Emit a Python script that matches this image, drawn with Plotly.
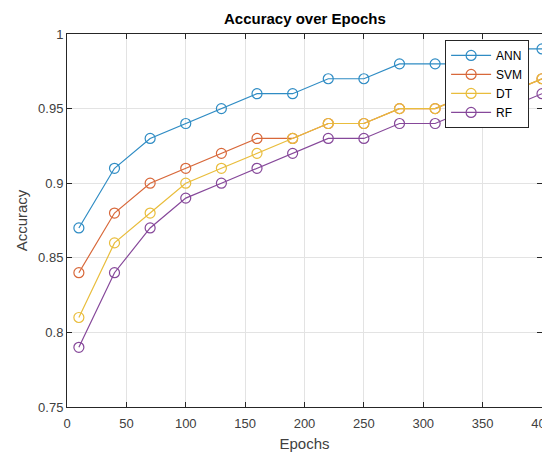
import plotly.graph_objects as go

epochs = [10, 40, 70, 100, 130, 160, 190, 220, 250, 280, 310, 340, 370, 400]
ann = [0.87, 0.91, 0.93, 0.94, 0.95, 0.96, 0.96, 0.97, 0.97, 0.98, 0.98, 0.98, 0.99, 0.99]
svm = [0.84, 0.88, 0.90, 0.91, 0.92, 0.93, 0.93, 0.94, 0.94, 0.95, 0.95, 0.96, 0.96, 0.97]
dt = [0.81, 0.86, 0.88, 0.90, 0.91, 0.92, 0.93, 0.94, 0.94, 0.95, 0.95, 0.96, 0.96, 0.97]
rf = [0.79, 0.84, 0.87, 0.89, 0.90, 0.91, 0.92, 0.93, 0.93, 0.94, 0.94, 0.95, 0.95, 0.96]

series_names = ["ANN", "SVM", "DT", "RF"]
series_values = [ann, svm, dt, rf]
colors = ["#2f8cc4", "#d8683a", "#e9bd3c", "#86489a"]

x_ticks = [0, 50, 100, 150, 200, 250, 300, 350, 400]
y_ticks = [0.75, 0.8, 0.85, 0.9, 0.95, 1.0]
y_tick_labels = ["0.75", "0.8", "0.85", "0.9", "0.95", "1"]

FONT = "Liberation Sans, Arial"

fig = go.Figure()
for name, vals, c in zip(series_names, series_values, colors):
    fig.add_trace(go.Scatter(
        x=epochs, y=vals, name=name, mode="lines+markers",
        line=dict(color=c, width=1.2),
        marker=dict(symbol="circle-open", size=10, color=c, line=dict(width=1.2, color=c)),
        cliponaxis=False,
    ))

axis_common = dict(
    showline=True, linecolor="#262626", linewidth=1, mirror="ticks",
    ticks="inside", ticklen=5, tickcolor="#262626",
    showgrid=True, gridcolor="#e3e3e3", gridwidth=1, zeroline=False,
    automargin=False, ticklabeloverflow="allow",
    tickfont=dict(family=FONT, size=13, color="#404040"),
)

# The page body has an 8px default margin, so the figure is sized and
# offset to land the plot area where it sits in the reference.
fig.update_layout(
    width=542, height=447,
    paper_bgcolor="white", plot_bgcolor="white",
    margin=dict(l=59, r=8, t=26, b=48),
    xaxis=dict(range=[0, 400], tickvals=x_ticks, ticklabelstandoff=4, **axis_common,
               title=dict(text="Epochs", standoff=8,
                          font=dict(family=FONT, size=15, color="#404040"))),
    yaxis=dict(range=[0.75, 1.0], tickvals=y_ticks, ticktext=y_tick_labels, **axis_common,
               title=dict(text="Accuracy", standoff=6,
                          font=dict(family=FONT, size=15, color="#404040"))),
    legend=dict(x=0.796, y=0.984, xanchor="left", yanchor="top",
                bgcolor="white", bordercolor="#262626", borderwidth=1,
                font=dict(family=FONT, size=12, color="#000000"),
                itemwidth=40, tracegroupgap=0),
    showlegend=True,
    annotations=[dict(text="<b>Accuracy over Epochs</b>", xref="paper", yref="paper",
                      x=0.5, y=1.0, yshift=16, xanchor="center", yanchor="middle",
                      showarrow=False, font=dict(family=FONT, size=15, color="#000000"))],
)

fig.write_html("out.html")
